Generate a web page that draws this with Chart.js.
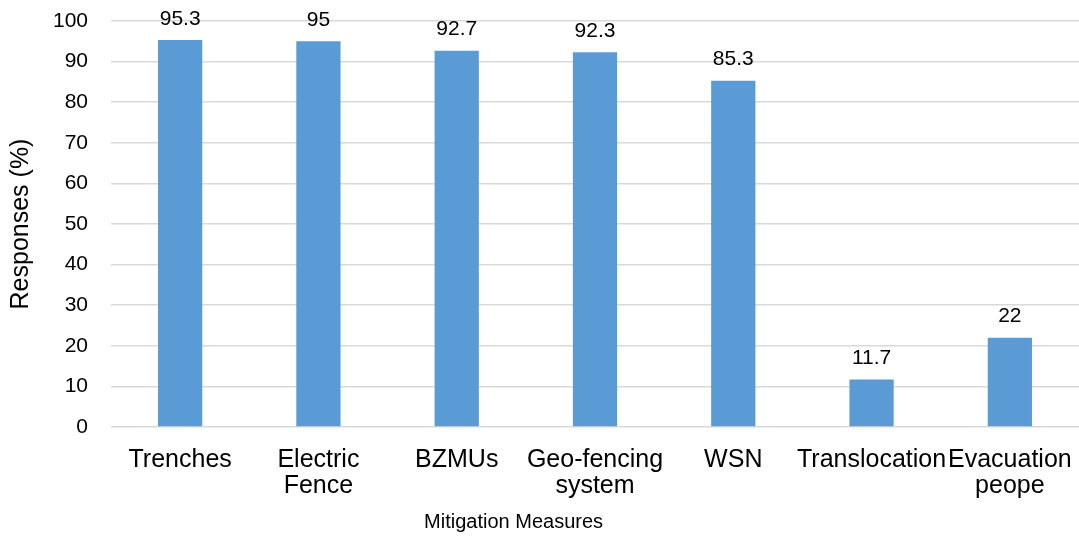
<!DOCTYPE html>
<html>
<head>
<meta charset="utf-8">
<script src="https://cdn.jsdelivr.net/npm/chart.js@4/dist/chart.umd.min.js"></script>
<style>
  html, body { margin: 0; padding: 0; background: #ffffff; }
  #wrap { width: 1079px; height: 537px; position: relative; }
</style>
</head>
<body>
<div id="wrap"><canvas id="c"></canvas></div>
<script>
// Mitigation measures and share of responses (%)
const categories = [
  "Trenches",
  ["Electric", "Fence"],
  "BZMUs",
  ["Geo-fencing", "system"],
  "WSN",
  "Translocation",
  ["Evacuation", "peope"]
];
const responses = [95.3, 95, 92.7, 92.3, 85.3, 11.7, 22];
const yTicks = [0, 10, 20, 30, 40, 50, 60, 70, 80, 90, 100];

const FONT = "'Liberation Sans', Arial, sans-serif";

// Value labels above each bar
const valueLabels = {
  id: 'valueLabels',
  afterDatasetsDraw(chart) {
    const ctx = chart.ctx;
    const meta = chart.getDatasetMeta(0);
    ctx.save();
    ctx.font = '21px ' + FONT;
    ctx.fillStyle = '#000000';
    ctx.textAlign = 'center';
    ctx.textBaseline = 'middle';
    meta.data.forEach((bar, i) => {
      ctx.fillText(String(responses[i]), bar.x, bar.y - 21);
    });
    ctx.restore();
  }
};

// Horizontal axis caption
const xCaption = {
  id: 'xCaption',
  afterDraw(chart) {
    const ctx = chart.ctx;
    ctx.save();
    ctx.font = '20px ' + FONT;
    ctx.fillStyle = '#000000';
    ctx.textAlign = 'center';
    ctx.textBaseline = 'middle';
    ctx.fillText('Mitigation Measures', chart.width * 0.476, chart.height - 15);
    ctx.restore();
  }
};

new Chart(document.getElementById('c'), {
  type: 'bar',
  data: {
    labels: categories,
    datasets: [{
      data: responses,
      backgroundColor: '#5B9BD5',
      borderWidth: 0,
      barPercentage: 0.32,
      categoryPercentage: 1.0
    }]
  },
  options: {
    responsive: true,
    maintainAspectRatio: false,
    animation: false,
    layout: { padding: { top: 21, right: 0, bottom: 0, left: 0 } },
    plugins: {
      legend: { display: false },
      tooltip: { enabled: false }
    },
    scales: {
      x: {
        grid: { display: false, drawTicks: false },
        border: { display: false },
        afterFit(scale) {
          scale.height = 110;
          scale.paddingLeft = 0;
          scale.paddingRight = 0;
        },
        ticks: {
          color: '#000000',
          font: { family: FONT, size: 25, lineHeight: 1.05 },
          padding: 20,
          maxRotation: 0,
          autoSkip: false
        }
      },
      y: {
        min: 0,
        max: 100,
        afterBuildTicks(scale) {
          scale.ticks = yTicks.map(v => ({ value: v }));
        },
        afterFit(scale) {
          scale.width = 111;
          scale.paddingTop = 0;
          scale.paddingBottom = 0;
        },
        grid: { color: '#d9d9d9', lineWidth: 1.5, drawTicks: false },
        border: { display: false },
        ticks: {
          color: '#000000',
          font: { family: FONT, size: 21 },
          padding: 23
        },
        title: {
          display: true,
          text: 'Responses (%)',
          color: '#000000',
          font: { family: FONT, size: 25 },
          padding: { top: 6, bottom: 14 }
        }
      }
    }
  },
  plugins: [valueLabels, xCaption]
});
</script>
</body>
</html>
